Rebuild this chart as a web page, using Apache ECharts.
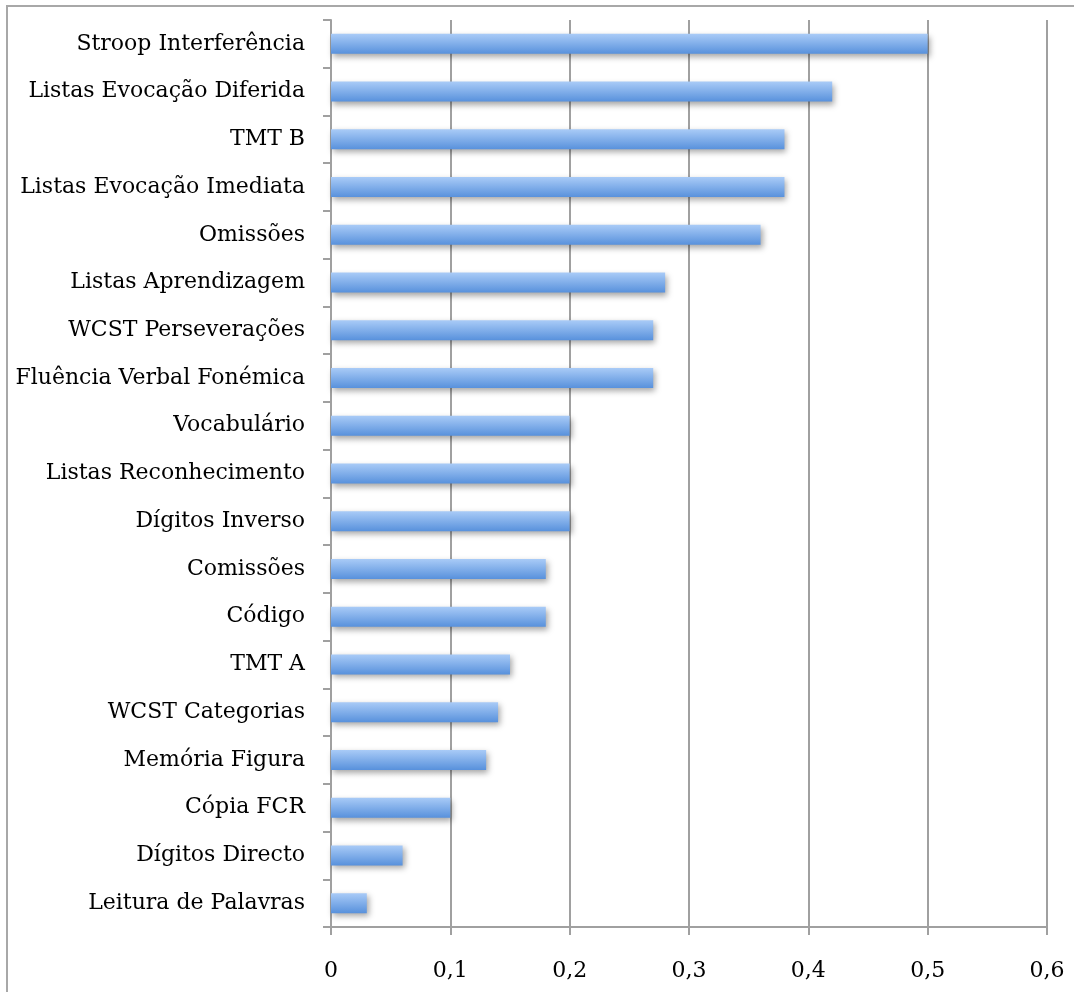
<!DOCTYPE html>
<html>
<head>
<meta charset="utf-8">
<script src="https://cdn.jsdelivr.net/npm/echarts@6/dist/echarts.min.js"></script>
<style>
  html, body { margin: 0; padding: 0; background: #fff; }
  #chart { width: 1074px; height: 992px; }
</style>
</head>
<body>
<div id="chart"></div>
<script>
// categorias (de cima para baixo)
const categories = [
  "Stroop Interferência",
  "Listas Evocação Diferida",
  "TMT B",
  "Listas Evocação Imediata",
  "Omissões",
  "Listas Aprendizagem",
  "WCST Perseverações",
  "Fluência Verbal Fonémica",
  "Vocabulário",
  "Listas Reconhecimento",
  "Dígitos Inverso",
  "Comissões",
  "Código",
  "TMT A",
  "WCST Categorias",
  "Memória Figura",
  "Cópia FCR",
  "Dígitos Directo",
  "Leitura de Palavras"
];
const values = [0.5, 0.42, 0.38, 0.38, 0.36, 0.28, 0.27, 0.27, 0.2, 0.2, 0.2, 0.18, 0.18, 0.15, 0.14, 0.13, 0.1, 0.06, 0.03];
const xTicks = [0, 0.1, 0.2, 0.3, 0.4, 0.5, 0.6];

const fontFamily = "'DejaVu Serif', serif";
const gray = "#a0a0a0";

const chart = echarts.init(document.getElementById("chart"));
const option = {
  backgroundColor: "#fff",
  animation: false,
  textStyle: { fontFamily: fontFamily },
  graphic: [
    {
      // moldura exterior
      type: "rect",
      shape: { x: 7, y: 6, width: 1200, height: 1200 },
      style: { fill: "none", stroke: "#a8a8a8", lineWidth: 2 },
      silent: true
    }
  ],
  grid: {
    left: 331,
    right: 27,
    top: 20,
    bottom: 65,
    containLabel: false
  },
  xAxis: {
    type: "value",
    min: xTicks[0],
    max: xTicks[xTicks.length - 1],
    interval: 0.1,
    axisLine: { show: true, lineStyle: { color: gray, width: 2 } },
    axisTick: { show: true, length: 8, lineStyle: { color: gray, width: 2 } },
    splitLine: { show: true, lineStyle: { color: gray, width: 2 } },
    axisLabel: {
      color: "#000",
      fontSize: 22,
      fontFamily: fontFamily,
      margin: 33,
      formatter: v => (v === 0 ? "0" : v.toFixed(1).replace(".", ","))
    }
  },
  yAxis: {
    type: "category",
    inverse: true,
    data: categories,
    axisLine: { show: true, onZero: false, lineStyle: { color: gray, width: 2 } },
    axisTick: { show: true, length: 8, lineStyle: { color: gray, width: 2 } },
    axisLabel: {
      color: "#000",
      fontSize: 22,
      fontFamily: fontFamily,
      margin: 26
    }
  },
  series: [
    {
      type: "bar",
      data: values,
      barWidth: 20,
      itemStyle: {
        color: new echarts.graphic.LinearGradient(0, 0, 0, 1, [
          { offset: 0, color: "#a9cbf7" },
          { offset: 1, color: "#5891dc" }
        ]),
        shadowColor: "rgba(0,0,0,0.35)",
        shadowBlur: 6,
        shadowOffsetX: 2,
        shadowOffsetY: 3
      }
    }
  ]
};
chart.setOption(option);
</script>
</body>
</html>
